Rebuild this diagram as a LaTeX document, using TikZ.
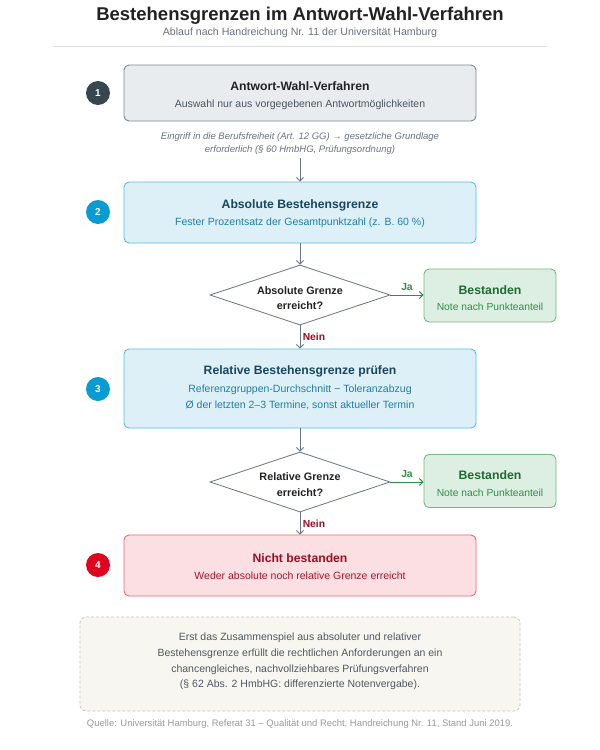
\documentclass[tikz,border=0pt]{standalone}
\usepackage{fontspec}
\setmainfont{Liberation Sans}
\usetikzlibrary{shapes.geometric,arrows.meta}
\definecolor{titlec}{HTML}{222222}
\definecolor{subc}{HTML}{6B7280}
\definecolor{rulec}{HTML}{DDDDDD}
\definecolor{graybox}{HTML}{E9ECEE}
\definecolor{grayborder}{HTML}{7D8790}
\definecolor{graytext}{HTML}{4A5560}
\definecolor{slate}{HTML}{37474F}
\definecolor{bluebox}{HTML}{DDF0F8}
\definecolor{blueborder}{HTML}{5BBCE4}
\definecolor{bluetitle}{HTML}{17475C}
\definecolor{bluetext}{HTML}{1F7EA3}
\definecolor{bluedot}{HTML}{0A9BD2}
\definecolor{greenbox}{HTML}{DDEFE2}
\definecolor{greenborder}{HTML}{72B982}
\definecolor{greentitle}{HTML}{1E6B30}
\definecolor{greentext}{HTML}{2F8F45}
\definecolor{redbox}{HTML}{FBDFE3}
\definecolor{redborder}{HTML}{E76B7A}
\definecolor{redtitle}{HTML}{9A1022}
\definecolor{redtext}{HTML}{A3162C}
\definecolor{reddot}{HTML}{E0051F}
\definecolor{arrowc}{HTML}{6B7580}
\definecolor{notebox}{HTML}{F7F6F1}
\definecolor{noteborder}{HTML}{C6C6C6}
\definecolor{notetext}{HTML}{4F5862}
\definecolor{srctext}{HTML}{9A9A9A}
\tikzset{
  stepbox/.style={draw, rounded corners=5pt, line width=0.9pt, minimum width=352pt, inner sep=0pt},
  okbox/.style={draw=greenborder, fill=greenbox, rounded corners=5pt, line width=0.9pt, minimum width=132pt, minimum height=53pt, inner sep=0pt},
  boxtitle/.style={inner sep=0pt, font=\bfseries\fontsize{12.2}{14}\selectfont},
  boxsub/.style={inner sep=0pt, align=center, font=\fontsize{10.5}{16}\selectfont},
  oktitle/.style={inner sep=0pt, text=greentitle, font=\bfseries\fontsize{12.3}{14}\selectfont},
  oksub/.style={inner sep=0pt, text=greentext, font=\fontsize{10.3}{12}\selectfont},
  dot/.style={circle, minimum size=24pt, inner sep=0pt, text=white, font=\bfseries\fontsize{10}{12}\selectfont},
  decision/.style={diamond, draw=arrowc, fill=white, line width=0.8pt, minimum width=180pt, minimum height=60pt, inner sep=0pt, aspect=3},
  decisiontext/.style={inner sep=0pt, align=center, text=titlec, font=\bfseries\fontsize{10.8}{15.5}\selectfont},
  flow/.style={draw=arrowc, line width=0.9pt, -{Straight Barb[length=3.5pt,width=7pt]}},
  yesflow/.style={draw=greentext, line width=1pt, -{Straight Barb[length=3.5pt,width=7pt]}},
  yeslabel/.style={text=greentext, font=\bfseries\fontsize{10.3}{12}\selectfont},
  nolabel/.style={text=redtitle, font=\bfseries\fontsize{10.3}{12}\selectfont},
}
\begin{document}
\begin{tikzpicture}[x=1pt,y=-1pt]
\useasboundingbox[fill=white] (0,0) rectangle (600,750);
% header
\node[text=titlec, font=\bfseries\fontsize{18.5}{22}\selectfont] (title) at (300,16) {Bestehensgrenzen im Antwort-Wahl-Verfahren};
\node[text=subc, font=\fontsize{10.6}{12}\selectfont] (subtitle) at (300,33) {Ablauf nach Handreichung Nr. 11 der Universität Hamburg};
\draw[rulec, line width=0.8pt] (53,46) -- (547,46);

% step 1
\node[stepbox, draw=grayborder, fill=graybox, minimum height=56pt] (s1) at (300,93) {};
\node[boxtitle, text=titlec] (s1t) at (300,86.5) {Antwort-Wahl-Verfahren};
\node[boxsub, text=graytext] (s1s) at (300,104.5) {Auswahl nur aus vorgegebenen Antwortmöglichkeiten};
\node[dot, fill=slate] (n1) at (98,93) {1};
\node[text=subc, align=center, inner sep=0pt, font=\itshape\fontsize{9.5}{12.3}\selectfont] (note1) at (300,143.5)
  {Eingriff in die Berufsfreiheit (Art. 12 GG) → gesetzliche Grundlage\\erforderlich (§ 60 HmbHG, Prüfungsordnung)};
\coordinate (note1b) at (300,158);

% step 2
\node[stepbox, draw=blueborder, fill=bluebox, minimum height=61pt] (s2) at (300,212.5) {};
\node[boxtitle, text=bluetitle] (s2t) at (300,205.5) {Absolute Bestehensgrenze};
\node[boxsub, text=bluetext] (s2s) at (300,223) {Fester Prozentsatz der Gesamtpunktzahl (z. B. 60 \%)};
\node[dot, fill=bluedot] (n2) at (98,212) {2};

% decision 1
\node[decision] (d1) at (300,295) {};
\node[decisiontext] (d1t) at (300,298) {Absolute Grenze\\erreicht?};
\node[okbox] (ok1) at (490,295.5) {};
\node[oktitle] (ok1t) at (490,290.5) {Bestanden};
\node[oksub] (ok1s) at (490,307) {Note nach Punkteanteil};

% step 3
\node[stepbox, draw=blueborder, fill=bluebox, minimum height=79pt] (s3) at (300,388.5) {};
\node[boxtitle, text=bluetitle] (s3t) at (300,371) {Relative Bestehensgrenze prüfen};
\node[boxsub, text=bluetext] (s3s) at (300,397)
  {Referenzgruppen-Durchschnitt − Toleranzabzug\\Ø der letzten 2–3 Termine, sonst aktueller Termin};
\node[dot, fill=bluedot] (n3) at (98,389) {3};

% decision 2
\node[decision] (d2) at (300,482) {};
\node[decisiontext] (d2t) at (300,484.5) {Relative Grenze\\erreicht?};
\node[okbox] (ok2) at (490,481) {};
\node[oktitle] (ok2t) at (490,475.5) {Bestanden};
\node[oksub] (ok2s) at (490,492.5) {Note nach Punkteanteil};

% step 4
\node[stepbox, draw=redborder, fill=redbox, minimum height=61pt] (s4) at (300,565.5) {};
\node[boxtitle, text=redtitle] (s4t) at (300,558.5) {Nicht bestanden};
\node[boxsub, text=redtext] (s4s) at (300,576) {Weder absolute noch relative Grenze erreicht};
\node[dot, fill=reddot] (n4) at (98,565) {4};

% summary
\node[draw=noteborder, dash pattern=on 3pt off 2pt, fill=notebox, rounded corners=6pt, line width=0.8pt, minimum width=440pt, minimum height=94pt, inner sep=0pt] (sum) at (300,664) {};
\node[inner sep=0pt, align=center, text=notetext, font=\fontsize{10.5}{15.8}\selectfont] (sumt) at (300,661.5)
  {Erst das Zusammenspiel aus absoluter und relativer\\Bestehensgrenze erfüllt die rechtlichen Anforderungen an ein\\chancengleiches, nachvollziehbares Prüfungsverfahren\\(§ 62 Abs. 2 HmbHG: differenzierte Notenvergabe).};
\node[text=srctext, font=\fontsize{9.45}{11}\selectfont] (src) at (300,724.5) {Quelle: Universität Hamburg, Referat 31 – Qualität und Recht, Handreichung Nr. 11, Stand Juni 2019.};

% connectors
\draw[flow] (note1b) -- (s2.north);
\draw[flow] (s2.south) -- (d1.north);
\draw[yesflow] (d1.east) -- node[yeslabel, above, yshift=1pt] {Ja} (d1.east -| ok1.west);
\draw[flow] (d1.south) -- node[nolabel, right, xshift=-1pt] {Nein} (s3.north);
\draw[flow] (s3.south) -- (d2.north);
\draw[yesflow] (d2.east) -- node[yeslabel, above, yshift=1pt] {Ja} (d2.east -| ok2.west);
\draw[flow] (d2.south) -- node[nolabel, right, xshift=-1pt] {Nein} (s4.north);
\end{tikzpicture}
\end{document}
